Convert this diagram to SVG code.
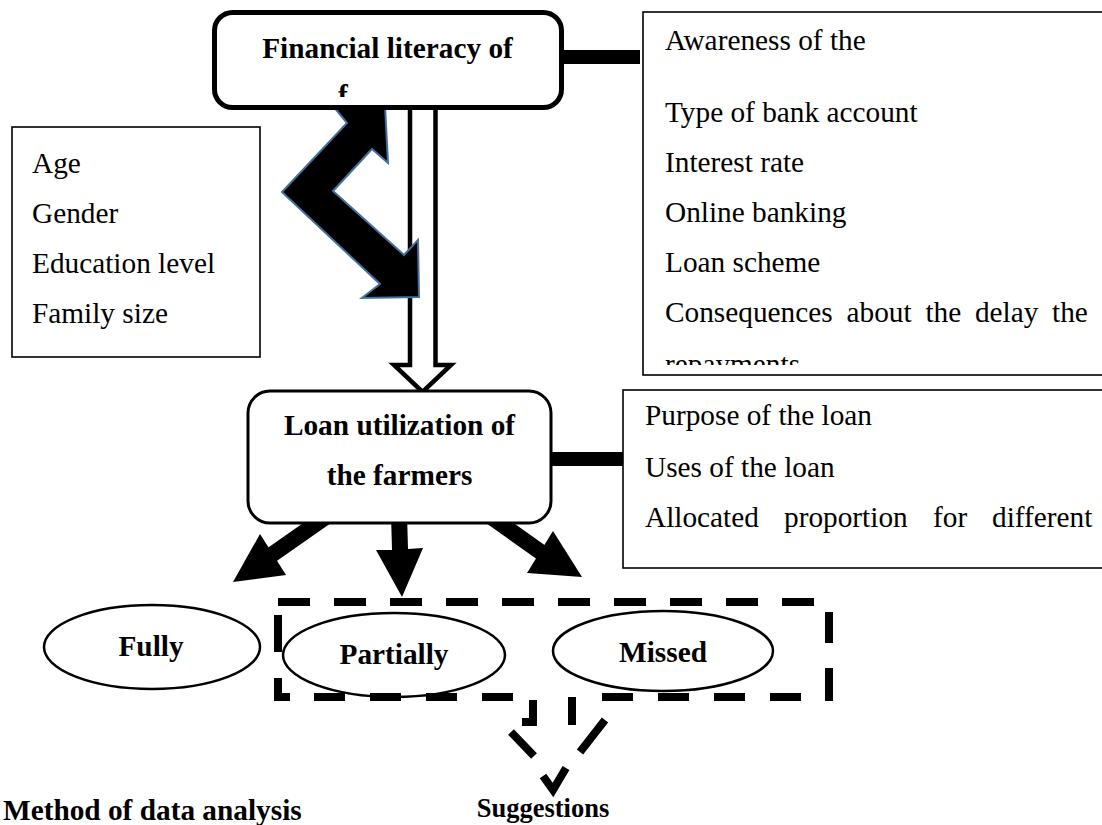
<svg xmlns="http://www.w3.org/2000/svg" width="1102" height="825" viewBox="0 0 1102 825">
<style>
.t{font-family:"Liberation Serif","Times New Roman",serif;font-size:29.3px;fill:#000}
.b{font-family:"Liberation Serif","Times New Roman",serif;font-size:29.3px;font-weight:bold;fill:#000;text-anchor:middle}
.box{fill:#fff;stroke:#000;stroke-width:1.6}
.ell{fill:#fff;stroke:#000;stroke-width:2.5}
.bar{fill:#000}
.dash{fill:none;stroke:#000;stroke-width:8;stroke-linecap:butt;stroke-linejoin:miter}
.shaft{stroke:#000;stroke-width:16;stroke-linecap:butt}
</style>
<defs>
<clipPath id="clipTop"><rect x="214" y="12" width="348" height="85"/></clipPath>
<clipPath id="clipAw"><rect x="643" y="12" width="459" height="353"/></clipPath>
</defs>

<g id="connectors">
  <path d="M410,108 V365 H394 L422.5,392 L451,365 H435.5 V108" fill="#fff" stroke="#000" stroke-width="4.5" stroke-linejoin="miter"/>
  <polygon points="282,192 380,284 362,298 419,297 418,240 404,255 333,191 372,149 388,163 385,106 333,106 347,123" fill="#000" stroke="#41719C" stroke-width="2"/>
  <rect class="bar" x="562" y="50" width="78" height="14"/>
  <rect class="bar" x="549" y="452" width="75" height="14"/>
  <line class="shaft" x1="330" y1="514" x2="270" y2="556"/>
  <polygon points="260,534 286,575 233,582" fill="#000"/>
  <path d="M391,514 L407,514 L408,549 L423,548 L402,597 L376,550 L392,550 Z" fill="#000"/>
  <line class="shaft" x1="487" y1="514" x2="542" y2="553"/>
  <polygon points="553,531 527,573 582,577" fill="#000"/>
  <path class="dash" d="M533,700 V722 H522 M572,697 V725 M511,732 L534,756 M605,720 L580,752 M543,776 L553,790 L566,768"/>
</g>

<g id="financial-literacy">
  <rect x="214.5" y="12.5" width="347" height="95" rx="18" ry="18" fill="#fff" stroke="#000" stroke-width="5"/>
  <text class="b" x="387.5" y="58">Financial literacy of</text>
  <text class="b" x="338" y="105" style="text-anchor:start" clip-path="url(#clipTop)">f</text>
</g>

<g id="awareness">
  <rect class="box" x="643" y="12" width="470" height="363"/>
  <text class="t" x="665" y="50">Awareness of the</text>
  <text class="t" x="665" y="122">Type of bank account</text>
  <text class="t" x="665" y="172">Interest rate</text>
  <text class="t" x="665" y="222">Online banking</text>
  <text class="t" x="665" y="272">Loan scheme</text>
  <text class="t" y="322"><tspan x="665">Consequences</tspan><tspan x="846.5">about</tspan><tspan x="925.4">the</tspan><tspan x="974.9">delay</tspan><tspan x="1052">the</tspan></text>
  <text class="t" x="665" y="373.5" clip-path="url(#clipAw)">repayments</text>
</g>

<g id="demographics">
  <rect class="box" x="12" y="127" width="248" height="230"/>
  <text class="t" x="32" y="173">Age</text>
  <text class="t" x="32" y="223">Gender</text>
  <text class="t" x="32" y="273">Education level</text>
  <text class="t" x="32" y="323">Family size</text>
</g>

<g id="loan-utilization">
  <rect x="248" y="391" width="303" height="132" rx="22" ry="22" fill="#fff" stroke="#000" stroke-width="3"/>
  <text class="b" x="399.5" y="435">Loan utilization of</text>
  <text class="b" x="399.5" y="485">the farmers</text>
</g>

<g id="loan-uses">
  <rect class="box" x="623" y="390" width="490" height="178"/>
  <text class="t" x="645" y="425">Purpose of the loan</text>
  <text class="t" x="645" y="477">Uses of the loan</text>
  <text class="t" y="527"><tspan x="645">Allocated</tspan><tspan x="784">proportion</tspan><tspan x="933">for</tspan><tspan x="992">different</tspan></text>
</g>

<g id="fully">
  <ellipse class="ell" cx="152" cy="647" rx="108" ry="42"/>
  <text class="b" x="151" y="656">Fully</text>
</g>

<g id="partially">
  <ellipse class="ell" cx="394" cy="655" rx="111" ry="42"/>
  <text class="b" x="394" y="664">Partially</text>
</g>

<g id="missed">
  <ellipse class="ell" cx="663" cy="651" rx="110" ry="40"/>
  <text class="b" x="663" y="662">Missed</text>
</g>

<g id="outcome-frame">
  <line class="dash" x1="278" y1="602" x2="814" y2="602" stroke-dasharray="32 24"/>
  <path class="dash" d="M278,615 V652 M278,678 V697 H290 M829,612 V643 M829,668 V701"/>
  <line class="dash" x1="314" y1="697" x2="513" y2="697" stroke-dasharray="31 25"/>
  <line class="dash" x1="602" y1="697" x2="802" y2="697" stroke-dasharray="31 25"/>
</g>

<g id="method">
  <text class="b" x="3" y="820" style="text-anchor:start">Method of data analysis</text>
</g>

<g id="suggestions">
  <text class="b" x="543" y="817" style="font-size:26.5px">Suggestions</text>
</g>
</svg>
